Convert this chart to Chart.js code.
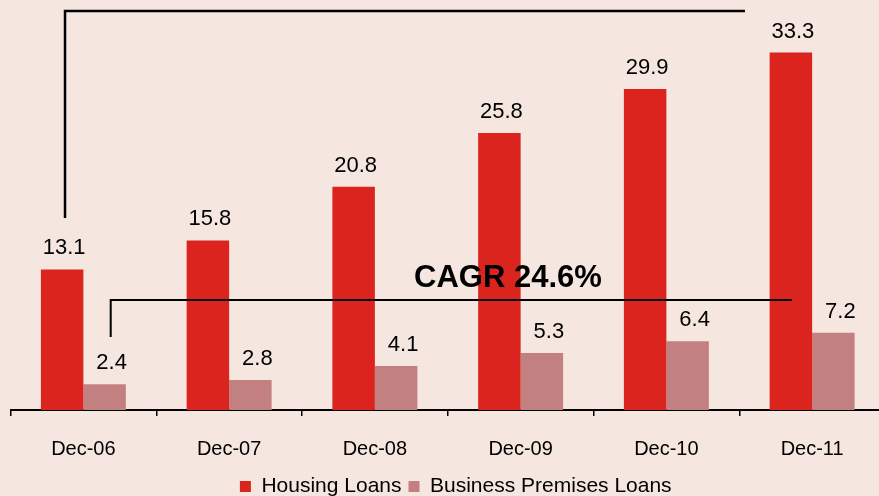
<!DOCTYPE html>
<html>
<head>
<meta charset="utf-8">
<script src="https://cdn.jsdelivr.net/npm/chart.js"></script>
</head>
<body style="margin:0;padding:0;background:#F5E6DF;overflow:hidden;font-family:'Liberation Sans', Arial, sans-serif;">
<div style="width:879px;height:496px;overflow:hidden;">
  <canvas id="loanChart" width="901" height="496" style="display:block;"></canvas>
</div>
<script>
  // values
  const periods = ['Dec-06', 'Dec-07', 'Dec-08', 'Dec-09', 'Dec-10', 'Dec-11'];
  const housingLoans = [13.1, 15.8, 20.8, 25.8, 29.9, 33.3];
  const businessLoans = [2.4, 2.8, 4.1, 5.3, 6.4, 7.2];
  const seriesNames = ['Housing Loans', 'Business Premises Loans'];
  const cagrText = 'CAGR 24.6%';

  // bracket lines in data units: [fromIndex, toIndex, topValue, bottomValue]
  const upperBracket = [-0.126, 4.539, 37.17, 17.89];
  const lowerBracket = [0.1875, 4.862, 10.25, 6.80];
  const cagrAt = [2.913, 11.46];

  const labelShift = [2, 7];

  const extras = {
    id: 'extras',
    afterDraw(chart) {
      const ctx = chart.ctx;
      const x = chart.scales.x;
      const y = chart.scales.y;
      ctx.save();

      ctx.font = '22px "Liberation Sans", Arial, sans-serif';
      ctx.fillStyle = '#000';
      ctx.textAlign = 'center';
      ctx.textBaseline = 'alphabetic';
      chart.data.datasets.forEach((ds, di) => {
        chart.getDatasetMeta(di).data.forEach((bar, i) => {
          ctx.fillText(ds.data[i].toFixed(1), bar.x + labelShift[di], bar.y - 15);
        });
      });

      function bracket(b, w) {
        ctx.beginPath();
        ctx.lineWidth = w;
        ctx.strokeStyle = '#000';
        ctx.moveTo(x.getPixelForValue(b[0]), y.getPixelForValue(b[3]));
        ctx.lineTo(x.getPixelForValue(b[0]), y.getPixelForValue(b[2]));
        ctx.lineTo(x.getPixelForValue(b[1]), y.getPixelForValue(b[2]));
        ctx.stroke();
      }
      bracket(upperBracket, 2.5);
      bracket(lowerBracket, 2);

      ctx.font = 'bold 31px "Liberation Sans", Arial, sans-serif';
      ctx.fillText(cagrText, x.getPixelForValue(cagrAt[0]), y.getPixelForValue(cagrAt[1]));
      ctx.restore();
    }
  };

  new Chart(document.getElementById('loanChart'), {
    type: 'bar',
    data: {
      labels: periods,
      datasets: [{
        label: seriesNames[0],
        data: housingLoans,
        backgroundColor: '#DC241F',
        borderWidth: 0
      }, {
        label: seriesNames[1],
        data: businessLoans,
        backgroundColor: '#C38080',
        borderWidth: 0
      }]
    },
    options: {
      responsive: false,
      animation: false,
      devicePixelRatio: 1,
      datasets: {
        bar: { categoryPercentage: 0.583, barPercentage: 1 }
      },
      layout: { padding: { left: 10.5, top: 0, right: 0, bottom: 0 } },
      plugins: {
        tooltip: { enabled: false },
        legend: {
          position: 'bottom',
          maxHeight: 27,
          labels: {
            boxWidth: 11,
            boxHeight: 11,
            padding: 7,
            color: '#000',
            font: { family: '"Liberation Sans", Arial, sans-serif', size: 21 }
          }
        }
      },
      scales: {
        x: {
          grid: {
            display: true,
            drawOnChartArea: false,
            drawTicks: true,
            tickLength: 6,
            color: '#000',
            lineWidth: 1.5,
            offset: true
          },
          border: { display: true, color: '#000', width: 2 },
          ticks: {
            color: '#000',
            padding: 24,
            maxRotation: 0,
            autoSkip: false,
            font: { family: '"Liberation Sans", Arial, sans-serif', size: 20, lineHeight: 0.9 }
          },
          afterFit(scale) { scale.height = 59; }
        },
        y: {
          position: 'right',
          min: 0,
          max: 38.2,
          grid: { display: false },
          border: { display: false },
          ticks: { display: false },
          afterFit(scale) { scale.width = 16; }
        }
      }
    },
    plugins: [extras]
  });
</script>
</body>
</html>
